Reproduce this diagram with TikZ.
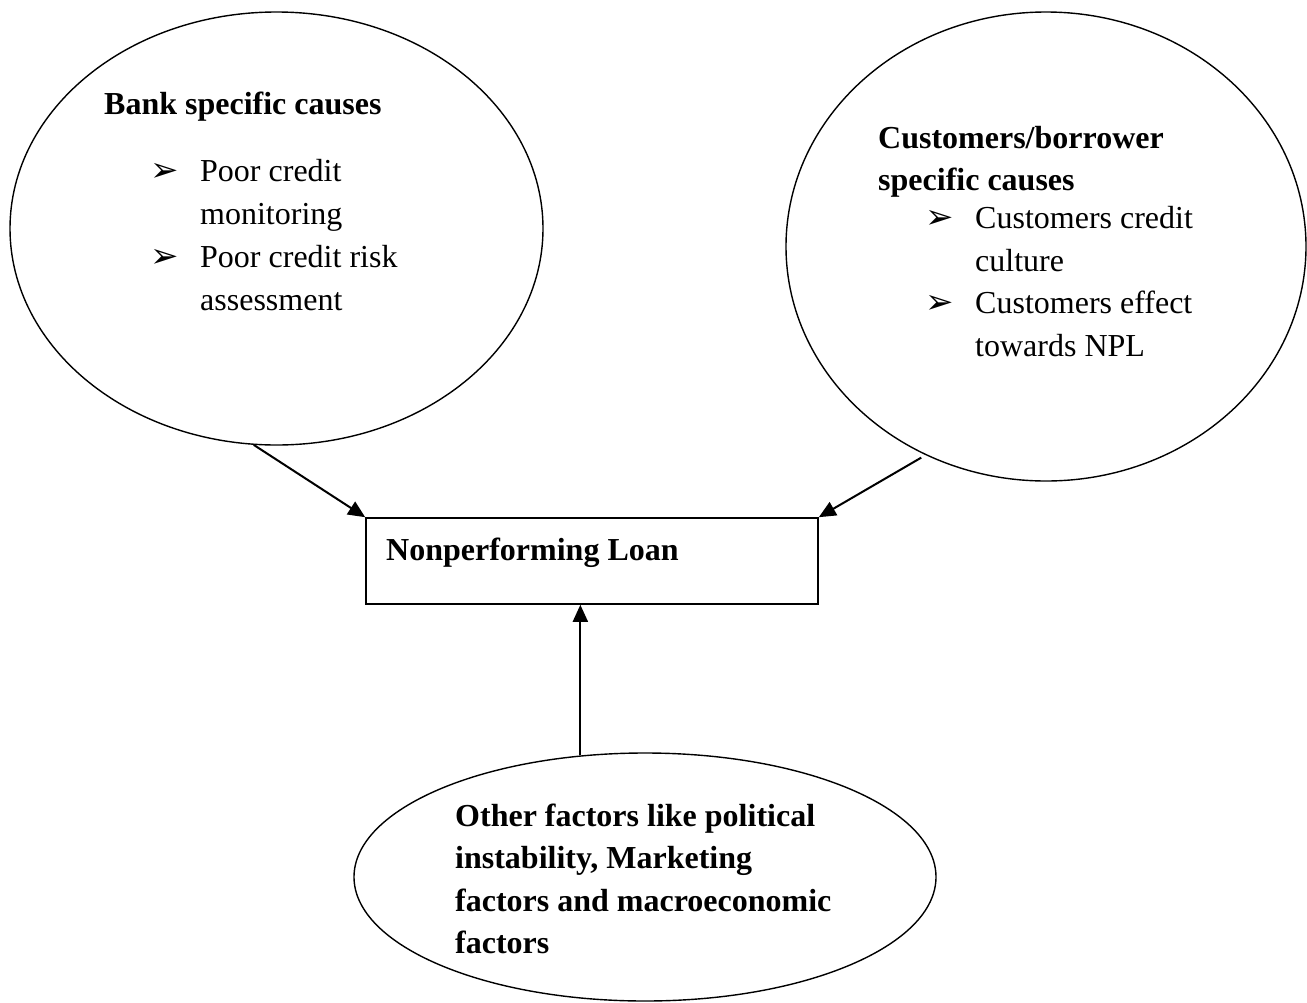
\documentclass[tikz,border=0pt]{standalone}
\usepackage{fontspec}
\setmainfont{Liberation Serif}
\newfontfamily\dejavu{DejaVu Sans}
\usetikzlibrary{shapes.geometric,arrows.meta}
\tikzset{
  oval/.style={draw, ellipse, line width=1.4pt, inner sep=0pt},
  txt/.style={anchor=base west, align=left, inner sep=0pt, font={\fontsize{32}{43}\selectfont}},
  btxt/.style={txt, font={\fontsize{32}{42.5}\selectfont\bfseries}},
  bul/.style={anchor=base west, inner sep=0pt, font={\dejavu\fontsize{34}{36}\selectfont}},
  conn/.style={line width=2pt, -{Triangle[length=17pt,width=15pt]}},
}
\begin{document}
\begin{tikzpicture}[x=1pt,y=-1pt]
\useasboundingbox (0,0) rectangle (1307,1002);
% ellipses
\node[oval, minimum width=533, minimum height=433] (bank) at (276.5,228.5) {};
\node[oval, minimum width=520, minimum height=469] (cust) at (1046,246.5) {};
\node[oval, minimum width=582, minimum height=248] (other) at (645,877) {};
% rectangle
\node[draw, line width=1.6pt, minimum width=452, minimum height=86, inner sep=0pt] (npl) at (592,561) {};
% texts (anchor = baseline of last line)
\node[btxt] (t1) at (104,114) {Bank specific causes};
\node[bul] (b1) at (150,181) {➢};
\node[txt] (t2) at (200,224) {Poor credit\\monitoring};
\node[bul] (b2) at (150,267) {➢};
\node[txt] (t3) at (200,310) {Poor credit risk\\assessment};
\node[btxt] (t4) at (878,190.5) {Customers/borrower\\specific causes};
\node[bul] (b3) at (925,228) {➢};
\node[txt] (t5) at (975,271) {Customers credit\\culture};
\node[bul] (b4) at (925,313) {➢};
\node[txt] (t6) at (975,356) {Customers effect\\towards NPL};
\node[btxt] (t7) at (386,560) {Nonperforming Loan};
\node[btxt] (t8) at (455,953.5) {Other factors like political\\instability, Marketing\\factors and macroeconomic\\factors};
% connectors
\draw[conn] (bank.264) -- (npl.north west);
\draw[conn, shorten <=5pt] (cust.240) -- (npl.north east);
\draw[conn] (other.118.3) -- (other.118.3 |- npl.south);
\end{tikzpicture}
\end{document}
